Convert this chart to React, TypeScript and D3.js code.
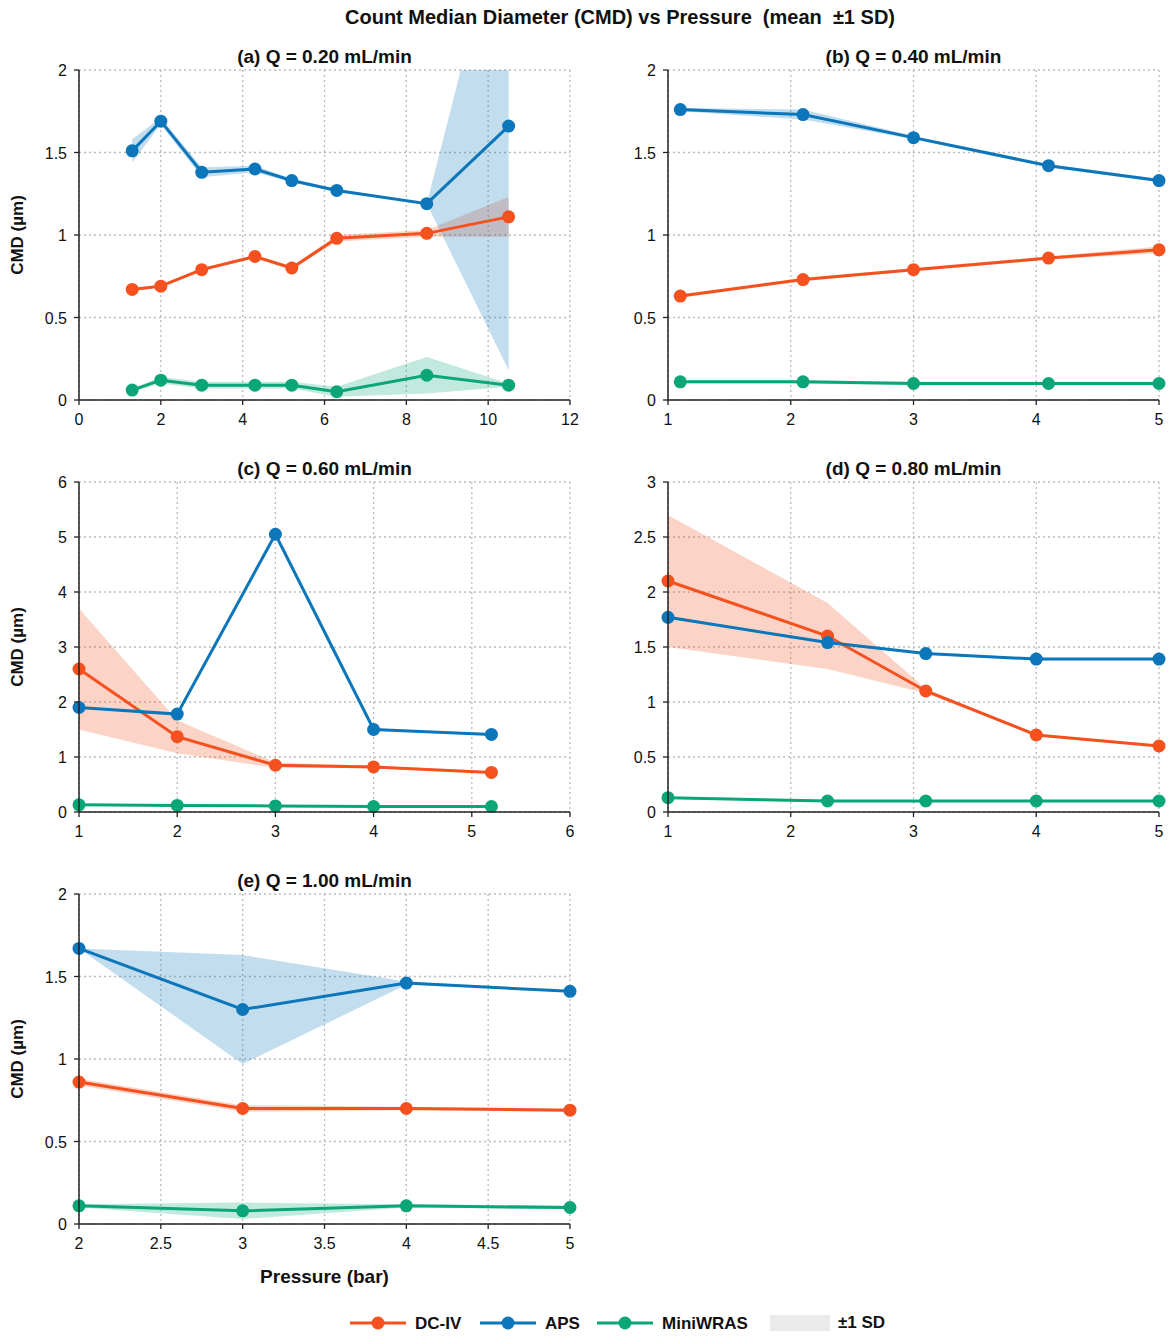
import * as d3 from "d3";

const C_DC = "#f4511e";
const C_APS = "#0b76ba";
const C_MINI = "#0aa678";

// panel (a) Q = 0.20
const xA = [1.3, 2, 3, 4.3, 5.2, 6.3, 8.5, 10.5];
const apsA = [1.51, 1.69, 1.38, 1.4, 1.33, 1.27, 1.19, 1.66];
const apsSdA = [0.07, 0.02, 0.03, 0.02, 0.01, 0.01, 0.0, 1.48];
const dcA = [0.67, 0.69, 0.79, 0.87, 0.8, 0.98, 1.01, 1.11];
const dcSdA = [0.01, 0.01, 0.01, 0.01, 0.01, 0.02, 0.02, 0.12];
const miniA = [0.06, 0.12, 0.09, 0.09, 0.09, 0.05, 0.15, 0.09];
const miniSdA = [0.01, 0.02, 0.02, 0.02, 0.02, 0.03, 0.11, 0.01];

// panel (b) Q = 0.40
const xB = [1.1, 2.1, 3, 4.1, 5];
const apsB = [1.76, 1.73, 1.59, 1.42, 1.33];
const apsSdB = [0.01, 0.03, 0.01, 0.01, 0.01];
const dcB = [0.63, 0.73, 0.79, 0.86, 0.91];
const dcSdB = [0.01, 0.01, 0.01, 0.01, 0.02];
const miniB = [0.11, 0.11, 0.1, 0.1, 0.1];
const miniSdB = [0.01, 0.01, 0.01, 0.01, 0.01];

// panel (c) Q = 0.60
const xC = [1, 2, 3, 4, 5.2];
const apsC = [1.9, 1.78, 5.05, 1.5, 1.41];
const apsSdC = [0.02, 0.02, 0.02, 0.02, 0.02];
const dcC = [2.6, 1.37, 0.85, 0.82, 0.72];
const dcSdC = [1.1, 0.3, 0.05, 0.02, 0.02];
const miniC = [0.13, 0.12, 0.11, 0.1, 0.1];
const miniSdC = [0.01, 0.01, 0.01, 0.01, 0.01];

// panel (d) Q = 0.80
const xD = [1, 2.3, 3.1, 4, 5];
const apsD = [1.77, 1.54, 1.44, 1.39, 1.39];
const apsSdD = [0.01, 0.01, 0.01, 0.01, 0.01];
const dcD = [2.1, 1.6, 1.1, 0.7, 0.6];
const dcSdD = [0.6, 0.3, 0.02, 0.01, 0.01];
const miniD = [0.13, 0.1, 0.1, 0.1, 0.1];
const miniSdD = [0.01, 0.01, 0.01, 0.01, 0.01];

// panel (e) Q = 1.00
const xE = [2, 3, 4, 5];
const apsE = [1.67, 1.3, 1.46, 1.41];
const apsSdE = [0.0, 0.33, 0.01, 0.0];
const dcE = [0.86, 0.7, 0.7, 0.69];
const dcSdE = [0.02, 0.02, 0.01, 0.01];
const miniE = [0.11, 0.08, 0.11, 0.1];
const miniSdE = [0.01, 0.05, 0.01, 0.01];

type Series = { v: number[]; sd: number[]; color: string };
type Panel = {
  title: string; x: number[]; series: Series[];
  xDom: [number, number]; xTicks: number[]; yDom: [number, number]; yTicks: number[];
  left: number; top: number; ylabel: boolean; xlabel: boolean;
};

const W = 491, H = 330;
const range = (a: number, b: number, s: number) => d3.range(a, b + s / 2, s);

const panels: Panel[] = [
  { title: "(a) Q = 0.20 mL/min", x: xA, series: [
      { v: dcA, sd: dcSdA, color: C_DC }, { v: apsA, sd: apsSdA, color: C_APS }, { v: miniA, sd: miniSdA, color: C_MINI }],
    xDom: [0, 12], xTicks: range(0, 12, 2), yDom: [0, 2], yTicks: range(0, 2, 0.5), left: 79, top: 70, ylabel: true, xlabel: false },
  { title: "(b) Q = 0.40 mL/min", x: xB, series: [
      { v: dcB, sd: dcSdB, color: C_DC }, { v: apsB, sd: apsSdB, color: C_APS }, { v: miniB, sd: miniSdB, color: C_MINI }],
    xDom: [1, 5], xTicks: range(1, 5, 1), yDom: [0, 2], yTicks: range(0, 2, 0.5), left: 668, top: 70, ylabel: false, xlabel: false },
  { title: "(c) Q = 0.60 mL/min", x: xC, series: [
      { v: dcC, sd: dcSdC, color: C_DC }, { v: apsC, sd: apsSdC, color: C_APS }, { v: miniC, sd: miniSdC, color: C_MINI }],
    xDom: [1, 6], xTicks: range(1, 6, 1), yDom: [0, 6], yTicks: range(0, 6, 1), left: 79, top: 482, ylabel: true, xlabel: false },
  { title: "(d) Q = 0.80 mL/min", x: xD, series: [
      { v: dcD, sd: dcSdD, color: C_DC }, { v: apsD, sd: apsSdD, color: C_APS }, { v: miniD, sd: miniSdD, color: C_MINI }],
    xDom: [1, 5], xTicks: range(1, 5, 1), yDom: [0, 3], yTicks: range(0, 3, 0.5), left: 668, top: 482, ylabel: false, xlabel: false },
  { title: "(e) Q = 1.00 mL/min", x: xE, series: [
      { v: dcE, sd: dcSdE, color: C_DC }, { v: apsE, sd: apsSdE, color: C_APS }, { v: miniE, sd: miniSdE, color: C_MINI }],
    xDom: [2, 5], xTicks: range(2, 5, 0.5), yDom: [0, 2], yTicks: range(0, 2, 0.5), left: 79, top: 894, ylabel: true, xlabel: true },
];

const FONT = "Liberation Sans, Arial, sans-serif";

function PanelView({ p, i }: { p: Panel; i: number }) {
  const x = d3.scaleLinear().domain(p.xDom).range([0, W]);
  const y = d3.scaleLinear().domain(p.yDom).range([H, 0]);
  const line = d3.line<number>().x((_, k) => x(p.x[k])).y((d) => y(d));
  const fmt = (d: number) => String(+d.toFixed(2));
  return (
    <g transform={`translate(${p.left},${p.top})`}>
      <defs>
        <clipPath id={`clip${i}`}><rect x={0} y={0} width={W} height={H} /></clipPath>
      </defs>
      {p.xTicks.map((t) => (
        <line key={"gx" + t} x1={x(t)} x2={x(t)} y1={0} y2={H} stroke="#bbb" strokeWidth={1.3} strokeDasharray="2,3" />
      ))}
      {p.yTicks.map((t) => (
        <line key={"gy" + t} x1={0} x2={W} y1={y(t)} y2={y(t)} stroke="#bbb" strokeWidth={1.3} strokeDasharray="2,3" />
      ))}
      <g clipPath={`url(#clip${i})`}>
        {p.series.map((s, k) => {
          const area = d3.area<number>().x((_, j) => x(p.x[j])).y0((d, j) => y(d - s.sd[j])).y1((d, j) => y(d + s.sd[j]));
          return <path key={"a" + k} d={area(s.v) || ""} fill={s.color} opacity={0.25} />;
        })}
      </g>
      {p.series.map((s, k) => (
        <g key={"s" + k}>
          <path d={line(s.v) || ""} fill="none" stroke={s.color} strokeWidth={3} />
          {s.v.map((v, j) => (
            <circle key={j} cx={x(p.x[j])} cy={y(v)} r={6.5} fill={s.color} />
          ))}
        </g>
      ))}
      <line x1={0} x2={W} y1={H} y2={H} stroke="#222" strokeWidth={1.5} />
      <line x1={0} x2={0} y1={0} y2={H} stroke="#222" strokeWidth={1.5} />
      {p.xTicks.map((t) => (
        <g key={"tx" + t}>
          <line x1={x(t)} x2={x(t)} y1={H} y2={H + 5} stroke="#222" strokeWidth={1.3} />
          <text x={x(t)} y={H + 25} textAnchor="middle" fontSize={16} fill="#111">{fmt(t)}</text>
        </g>
      ))}
      {p.yTicks.map((t) => (
        <g key={"ty" + t}>
          <line x1={-5} x2={0} y1={y(t)} y2={y(t)} stroke="#222" strokeWidth={1.3} />
          <text x={-12} y={y(t) + 6} textAnchor="end" fontSize={16} fill="#111">{fmt(t)}</text>
        </g>
      ))}
      <text x={W / 2} y={-7} textAnchor="middle" fontSize={19} fontWeight="bold" fill="#111">{p.title}</text>
      {p.ylabel && (
        <text transform={`translate(${-56},${H / 2}) rotate(-90)`} textAnchor="middle" fontSize={17} fontWeight="bold" fill="#111">CMD (µm)</text>
      )}
      {p.xlabel && (
        <text x={W / 2} y={H + 59} textAnchor="middle" fontSize={19} fontWeight="bold" fill="#111">Pressure (bar)</text>
      )}
    </g>
  );
}

const legendItems = [
  { label: "DC-IV", color: C_DC, x: 350 },
  { label: "APS", color: C_APS, x: 480 },
  { label: "MiniWRAS", color: C_MINI, x: 597 },
];

export default function App() {
  return (
    <svg width={1176} height={1340} style={{ position: "absolute", left: 0, top: 0, fontFamily: FONT }}>
      <rect width={1176} height={1340} fill="#fff" />
      <text x={620} y={24} textAnchor="middle" fontSize={20} fontWeight="bold" fill="#111" style={{ whiteSpace: "pre" }}>
        {"Count Median Diameter (CMD) vs Pressure  (mean  ±1 SD)"}
      </text>
      {panels.map((p, i) => <PanelView key={i} p={p} i={i} />)}
      <g transform="translate(0,1323)">
        {legendItems.map((l) => (
          <g key={l.label}>
            <line x1={l.x} x2={l.x + 56} y1={0} y2={0} stroke={l.color} strokeWidth={3} />
            <circle cx={l.x + 28} cy={0} r={6.5} fill={l.color} />
            <text x={l.x + 65} y={6} fontSize={17} fontWeight="bold" fill="#111">{l.label}</text>
          </g>
        ))}
        <rect x={770} y={-8} width={60} height={16} fill="#999" opacity={0.2} />
        <text x={838} y={5} fontSize={17} fontWeight="bold" fill="#111">±1 SD</text>
      </g>
    </svg>
  );
}
